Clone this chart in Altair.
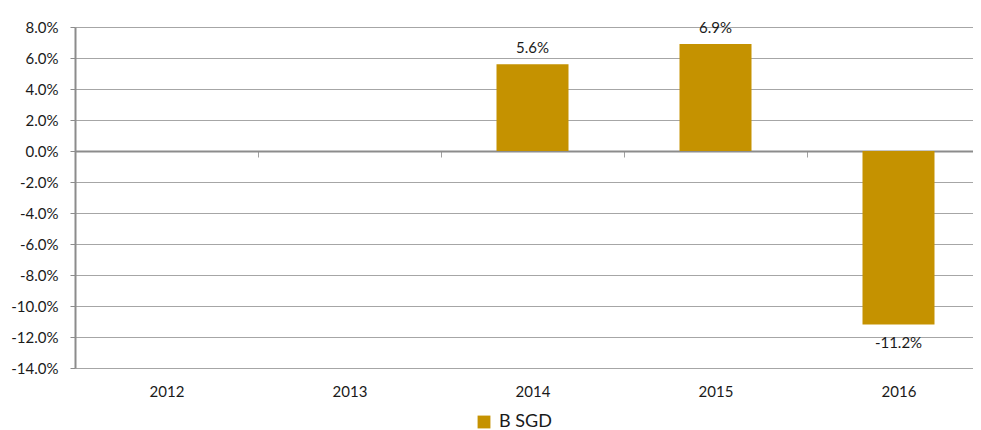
import altair as alt
import pandas as pd

years = ["2012", "2013", "2014", "2015", "2016"]
values = [None, None, 0.056, 0.069, -0.112]
series = ["B SGD"] * 5
y_ticks = [0.08, 0.06, 0.04, 0.02, 0.0, -0.02, -0.04, -0.06, -0.08, -0.10, -0.12, -0.14]

df = pd.DataFrame({"year": years, "value": values, "series": series})

FONT = "Lato"
GOLD = "#C59200"
TXT = "#1a1a1a"

x_scale = alt.Scale(domain=years, range=[0, 915], paddingInner=0, paddingOuter=0)
x_enc = alt.X(
    "year:N",
    scale=x_scale,
    axis=alt.Axis(
        title=None,
        orient="bottom",
        offset=-217,
        tickBand="extent",
        tickSize=6,
        tickColor="#A0A0A0",
        tickWidth=1,
        domainColor="#8C8C8C",
        domainWidth=2,
        labelAngle=0,
        labelPadding=227,
        labelFontSize=15,
        labelFont=FONT,
        labelColor=TXT,
        grid=False,
    ),
)

y_scale = alt.Scale(domain=[-0.14, 0.08], nice=False, zero=False)
y_enc = alt.Y(
    "value:Q",
    scale=y_scale,
    axis=alt.Axis(
        title=None,
        values=y_ticks,
        tickCount=12,
        format=".1%",
        labelExpr="replace(datum.label, '\u2212', '-')",
        labelOverlap=False,
        tickSize=5,
        tickColor="#8C8C8C",
        domainColor="#8C8C8C",
        domainWidth=2,
        labelPadding=12,
        labelFontSize=15,
        labelFont=FONT,
        labelColor=TXT,
        grid=True,
        gridColor="#A6A6A6",
        gridWidth=1,
    ),
)

base = alt.Chart(df).transform_filter("isValid(datum.value)").transform_calculate(
    label="replace(format(datum.value, '.1%'), '\u2212', '-')"
)

bars = base.mark_bar(size=72).encode(
    x=x_enc,
    y=y_enc,
    y2=alt.datum(0),
    color=alt.Color(
        "series:N",
        scale=alt.Scale(range=[GOLD]),
        legend=alt.Legend(
            title=None,
            orient="none",
            legendX=400,
            legendY=386,
            symbolType="square",
            symbolSize=165,
            symbolStrokeWidth=0,
            labelFontSize=18,
            labelFont=FONT,
            labelColor=TXT,
            padding=0,
            labelOffset=6,
        ),
    ),
)

pos_labels = base.transform_filter("datum.value >= 0").mark_text(
    baseline="bottom", dy=-8, fontSize=15, font=FONT, color=TXT
).encode(
    x=alt.X("year:N", scale=x_scale),
    y=alt.Y("value:Q", scale=y_scale),
    text="label:N",
)

neg_labels = base.transform_filter("datum.value < 0").mark_text(
    baseline="top", dy=11, fontSize=15, font=FONT, color=TXT
).encode(
    x=alt.X("year:N", scale=x_scale),
    y=alt.Y("value:Q", scale=y_scale),
    text="label:N",
)

chart = alt.layer(bars, pos_labels, neg_labels).properties(
    width=898,
    height=341,
    autosize=alt.AutoSizeParams(type="none"),
    padding={"left": 67, "top": 19, "right": 0, "bottom": 66},
).configure_view(stroke=None).configure(background="white")

chart.save("out.html", embed_options={"renderer": "svg", "actions": False})
